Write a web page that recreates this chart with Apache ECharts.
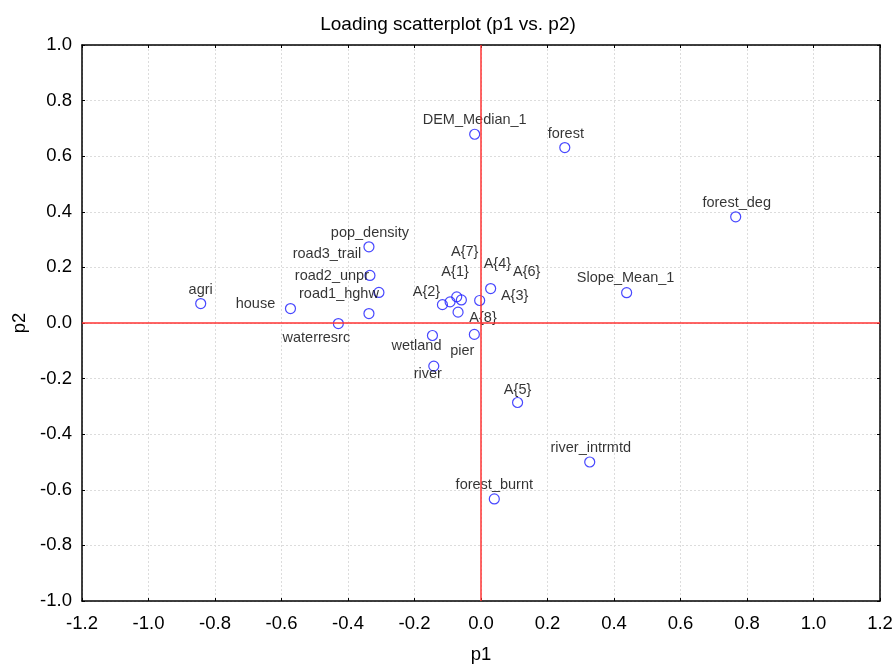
<!DOCTYPE html>
<html>
<head>
<meta charset="utf-8">
<script src="https://cdn.jsdelivr.net/npm/echarts@6/dist/echarts.min.js"></script>
<style>
  html, body { margin: 0; padding: 0; background: #fff; }
  #chart { width: 896px; height: 669px; }
</style>
</head>
<body>
<div id="chart"></div>
<script>
// Variable loadings on the first two components
const variables = [
  'agri', 'house', 'waterresrc', 'pop_density', 'road3_trail', 'road2_unpr', 'road1_hghw',
  'A{2}', 'A{1}', 'A{7}', 'A{4}', 'A{8}', 'A{6}', 'A{3}', 'pier', 'wetland', 'river',
  'DEM_Median_1', 'forest', 'forest_deg', 'Slope_Mean_1', 'A{5}', 'river_intrmtd', 'forest_burnt'
];
const p1 = [
  -0.843, -0.573, -0.429, -0.337, -0.334, -0.307, -0.337,
  -0.116, -0.093, -0.073, -0.059, -0.069, -0.004, 0.029, -0.020, -0.146, -0.142,
  -0.019, 0.252, 0.766, 0.438, 0.110, 0.327, 0.040
];
const p2 = [
  0.070, 0.052, -0.002, 0.274, 0.171, 0.110, 0.034,
  0.066, 0.076, 0.094, 0.083, 0.039, 0.081, 0.124, -0.041, -0.045, -0.155,
  0.679, 0.631, 0.382, 0.109, -0.286, -0.500, -0.633
];
const axisTicks = { xMin: -1.2, xMax: 1.2, yMin: -1.0, yMax: 1.0, step: 0.2 };

// Label placement (pixel offset of each label from its point)
const labelShift = {
  'agri': [0, -14], 'house': [-35, -5], 'waterresrc': [-22, 14], 'pop_density': [1, -14],
  'road3_trail': [-43, -21], 'road2_unpr': [-47, -16], 'road1_hghw': [-30, -20],
  'A{2}': [-16, -13], 'A{1}': [5, -30], 'A{7}': [8, -45], 'A{4}': [36, -36],
  'A{8}': [25, 6], 'A{6}': [47, -28], 'A{3}': [24, 7], 'pier': [-12, 17],
  'wetland': [-16, 10], 'river': [-6, 8], 'DEM_Median_1': [0, -14], 'forest': [1, -14],
  'forest_deg': [1, -14], 'Slope_Mean_1': [-1, -15], 'A{5}': [0, -13],
  'river_intrmtd': [1, -14], 'forest_burnt': [0, -14]
};

const FONT = '"Liberation Sans", Arial, sans-serif';
const ZERO_LINE = { color: '#ff3333', width: 1.5, type: 'solid' };

const points = variables.map((name, i) => ({
  name: name,
  value: [p1[i], p2[i]],
  label: { offset: labelShift[name] || [0, -14] }
}));

const fmt = v => v.toFixed(1);

const baseAxis = {
  interval: axisTicks.step,
  axisLine: { onZero: false, lineStyle: { color: '#000', width: 1.5 } },
  axisTick: { inside: true, length: 3, lineStyle: { color: '#000' } },
  splitLine: { show: false }
};

const chart = echarts.init(document.getElementById('chart'));
chart.setOption({
  animation: false,
  backgroundColor: '#fff',
  title: {
    text: 'Loading scatterplot (p1 vs. p2)',
    left: 'center', top: 10,
    textStyle: { fontFamily: FONT, fontSize: 19, fontWeight: 'normal', color: '#000' }
  },
  grid: { left: 82, right: 16, top: 45, bottom: 67 },
  xAxis: [
    Object.assign({}, baseAxis, {
      type: 'value', position: 'bottom', min: axisTicks.xMin, max: axisTicks.xMax,
      name: 'p1', nameLocation: 'middle', nameGap: 44,
      nameTextStyle: { fontFamily: FONT, fontSize: 18.5, color: '#000' },
      axisLabel: { formatter: fmt, fontFamily: FONT, fontSize: 18.5, color: '#000', margin: 13 },
      splitLine: { show: true, lineStyle: { color: '#dcdcdc', type: [2, 2] } }
    }),
    Object.assign({}, baseAxis, {
      type: 'value', position: 'top', min: axisTicks.xMin, max: axisTicks.xMax,
      axisLabel: { show: false }
    })
  ],
  yAxis: [
    Object.assign({}, baseAxis, {
      type: 'value', position: 'left', min: axisTicks.yMin, max: axisTicks.yMax,
      name: 'p2', nameLocation: 'middle', nameGap: 53,
      nameTextStyle: { fontFamily: FONT, fontSize: 18.5, color: '#000' },
      axisLabel: { formatter: fmt, fontFamily: FONT, fontSize: 18.5, color: '#000', margin: 10 },
      splitLine: { show: true, lineStyle: { color: '#dcdcdc', type: [2, 2] } }
    }),
    Object.assign({}, baseAxis, {
      type: 'value', position: 'right', min: axisTicks.yMin, max: axisTicks.yMax,
      axisLabel: { show: false }
    })
  ],
  series: [{
    type: 'scatter',
    xAxisIndex: 0, yAxisIndex: 0,
    symbol: 'circle',
    symbolSize: 10,
    itemStyle: { color: 'rgba(255,255,255,0)', borderColor: '#1a1aff', borderWidth: 1.2 },
    label: {
      show: true, position: 'inside', formatter: p => p.name,
      fontFamily: FONT, fontSize: 14.5, color: '#000'
    },
    emphasis: { disabled: true },
    data: points,
    markLine: {
      silent: true, symbol: 'none', label: { show: false },
      itemStyle: { color: ZERO_LINE.color },
      lineStyle: ZERO_LINE,
      emphasis: { disabled: true },
      data: [
        { xAxis: 0, lineStyle: ZERO_LINE },
        { yAxis: 0, lineStyle: ZERO_LINE }
      ]
    },
    z: 3
  }]
});
</script>
</body>
</html>
